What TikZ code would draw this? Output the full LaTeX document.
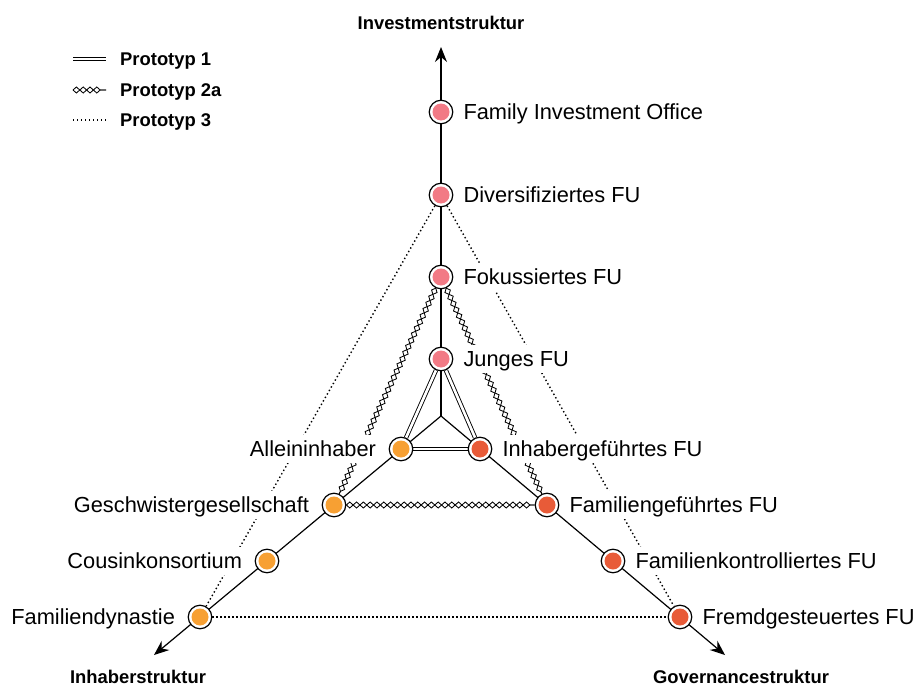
\documentclass[tikz,border=0pt]{standalone}
\usepackage{fontspec}
\setmainfont{Liberation Sans}
\usetikzlibrary{arrows.meta,decorations.pathmorphing}
\pgfdeclarelayer{background}
\pgfsetlayers{background,main}
\definecolor{cpink}{HTML}{F27A85}
\definecolor{corange}{HTML}{F7A033}
\definecolor{cred}{HTML}{E85B38}
\begin{document}
\begin{tikzpicture}[x=1pt,y=-1pt,
  dotnode/.style={circle,draw,line width=1.2pt,fill=white,minimum size=23.5pt,inner sep=0pt,
    path picture={\fill[#1] (path picture bounding box.center) circle (8.5pt);}},
  lbl/.style={fill=white,inner sep=1.5pt,text height=20pt,text depth=4.4pt,font=\fontsize{21.8}{24}\selectfont},
  rl/.style={label={[lbl,label distance=8.5pt]right:#1}},
  ll/.style={label={[lbl,label distance=11pt]left:#1}},
  axlbl/.style={inner sep=0pt,font=\bfseries\fontsize{18.4}{20}\selectfont},
  leglbl/.style={inner sep=2pt,anchor=west,text height=16pt,text depth=2.8pt,font=\bfseries\fontsize{18.4}{20}\selectfont},
  axisline/.style={line width=1.2pt,-{Stealth[length=15pt,width=12pt,inset=5pt]}},
  protone/.style={double,double distance=2.6pt,line width=0.9pt},
  protwo/.style={
    postaction={draw,line width=0.85pt,decorate,decoration={zigzag,segment length=13.6pt,amplitude=3pt}},
    postaction={draw,line width=0.85pt,decorate,decoration={zigzag,segment length=13.6pt,amplitude=3pt,mirror}}},
  prothree/.style={line width=1.4pt,dash pattern=on 1.4pt off 2.6pt}
]
\useasboundingbox (0,0) rectangle (922,688);

% axes
\coordinate (C) at (441,416);
\coordinate (tT) at (441,47);
\coordinate (tL) at (154,655);
\coordinate (tR) at (725,655);
\begin{pgfonlayer}{background}
\draw[axisline] (C) -- (tT);
\draw[axisline] (C) -- (tL);
\draw[axisline] (C) -- (tR);
\end{pgfonlayer}

% nodes: investment
\node[dotnode=cpink,rl={Family Investment Office}] (fio) at (441,112) {};
\node[dotnode=cpink,rl={Diversifiziertes FU}] (div) at (441,195) {};
\node[dotnode=cpink,rl={Fokussiertes FU}] (fok) at (441,277) {};
\node[dotnode=cpink,rl={Junges FU}] (jun) at (441,359) {};
% owner
\node[dotnode=corange,ll={Alleininhaber}] (all) at (401,449) {};
\node[dotnode=corange,ll={Geschwistergesellschaft}] (ges) at (334,505) {};
\node[dotnode=corange,ll={Cousinkonsortium}] (cou) at (267,561) {};
\node[dotnode=corange,ll={Familiendynastie}] (fdy) at (200,617) {};
% governance
\node[dotnode=cred,rl={Inhabergeführtes FU}] (inh) at (480,449) {};
\node[dotnode=cred,rl={Familiengeführtes FU}] (fge) at (547,505) {};
\node[dotnode=cred,rl={Familienkontrolliertes FU}] (fko) at (613,561) {};
\node[dotnode=cred,rl={Fremdgesteuertes FU}] (fre) at (680,617) {};

% prototype connectors
\begin{pgfonlayer}{background}
\draw[protone] (jun) -- (all);
\draw[protone] (jun) -- (inh);
\draw[protone] (all) -- (inh);
\path[protwo] (fok) -- (ges);
\path[protwo] (fok) -- (fge);
\path[protwo] (ges) -- (fge);
\draw[prothree] (div) -- (fdy);
\draw[prothree] (div) -- (fre);
\draw[prothree] (fdy) -- (fre);
\end{pgfonlayer}

% axis labels
\node[axlbl] (axI) at (441,23) {Investmentstruktur};
\node[axlbl] (axO) at (138,677) {Inhaberstruktur};
\node[axlbl] (axG) at (741,677) {Governancestruktur};

% legend
\coordinate (l1a) at (73,59);  \coordinate (l1b) at (106,59);
\coordinate (l2a) at (73,90);  \coordinate (l2b) at (106,90);
\coordinate (l3a) at (73,120); \coordinate (l3b) at (106,120);
\draw[protone] (l1a) -- (l1b);
\path[protwo] (l2a) -- (l2b);
\draw[prothree] (l3a) -- (l3b);
\node[leglbl] (t1) at (118,59) {Prototyp 1};
\node[leglbl] (t2) at (118,90) {Prototyp 2a};
\node[leglbl] (t3) at (118,120) {Prototyp 3};
\end{tikzpicture}
\end{document}
